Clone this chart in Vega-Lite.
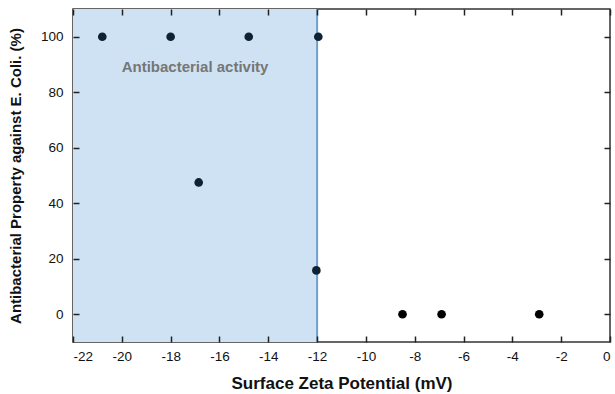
{
  "$schema": "https://vega.github.io/schema/vega-lite/v6.json",
  "width": 537,
  "height": 333,
  "autosize": {"type": "none"},
  "padding": {"left": 73, "top": 9, "right": 5, "bottom": 52},
  "background": "white",
  "config": {
    "view": {"stroke": "#333333", "strokeWidth": 1.5},
    "font": "Liberation Sans",
    "axis": {
      "labelFont": "Liberation Sans",
      "labelFontSize": 13.5,
      "labelColor": "#111111",
      "titleFont": "Liberation Sans",
      "titleFontWeight": "bold",
      "titleColor": "#111111",
      "domain": false,
      "grid": false,
      "ticks": true,
      "tickOpacity": 1,
      "tickColor": "#222222"
    }
  },
  "datasets": {
    "region": [{"x1": -22, "x2": -12, "y1": -10, "y2": 110}],
    "points": [
      {"zeta": -20.8, "activity": 100, "group": "a"},
      {"zeta": -18.0, "activity": 100, "group": "a"},
      {"zeta": -14.8, "activity": 100, "group": "a"},
      {"zeta": -11.95, "activity": 100, "group": "a"},
      {"zeta": -16.85, "activity": 47.5, "group": "a"},
      {"zeta": -12.03, "activity": 15.8, "group": "a"},
      {"zeta": -8.5, "activity": 0, "group": "b"},
      {"zeta": -6.9, "activity": 0, "group": "b"},
      {"zeta": -2.9, "activity": 0, "group": "b"}
    ],
    "label": [{"x": -17.0, "y": 89, "text": "Antibacterial  activity"}]
  },
  "layer": [
    {
      "data": {"name": "region"},
      "mark": {"type": "rect", "color": "#cfe2f3"},
      "encoding": {
        "x": {"field": "x1", "type": "quantitative", "scale": {"domain": [-22, 0], "nice": false}, "axis": null},
        "x2": {"field": "x2"},
        "y": {"field": "y1", "type": "quantitative", "scale": {"domain": [-10, 110], "nice": false, "zero": false}, "axis": null},
        "y2": {"field": "y2"}
      }
    },
    {
      "data": {"name": "region"},
      "mark": {"type": "rule", "color": "#6f9fcf", "strokeWidth": 2},
      "encoding": {
        "x": {"field": "x2", "type": "quantitative", "axis": null},
        "y": {"field": "y1", "type": "quantitative", "axis": null},
        "y2": {"field": "y2"}
      }
    },
    {
      "data": {"name": "points"},
      "mark": {"type": "point", "shape": "circle", "filled": true, "opacity": 1, "size": 75},
      "encoding": {
        "x": {"field": "zeta", "type": "quantitative", "axis": {"orient": "bottom", "zindex": 1, "values": [-22,-20,-18,-16,-14,-12,-10,-8,-6,-4,-2,0], "labelExpr": "replace(datum.label, '\u2212', '-')", "title": "Surface Zeta Potential (mV)", "titleFontSize": 17, "titlePadding": 13, "labelPadding": 7, "ticks": true, "tickOpacity": 1, "tickSize": 6, "tickColor": "#222222", "tickWidth": 1.5, "offset": -6}},
        "y": {"field": "activity", "type": "quantitative", "axis": {"orient": "left", "zindex": 1, "values": [0,20,40,60,80,100], "title": "Antibacterial Property against E. Coli. (%)", "titleFontSize": 15, "titlePadding": 17, "labelPadding": 10, "ticks": true, "tickOpacity": 1, "tickSize": 6, "tickColor": "#222222", "tickWidth": 1.5, "offset": -6}},
        "color": {"field": "group", "type": "nominal", "scale": {"domain": ["a", "b"], "range": ["#0f2233", "#000000"]}, "legend": null}
      }
    },
    {
      "data": {"name": "label"},
      "mark": {"type": "text", "font": "Liberation Sans", "fontSize": 15, "fontWeight": "bold", "color": "#767676"},
      "encoding": {
        "x": {"field": "x", "type": "quantitative", "axis": {"orient": "top", "zindex": 1, "values": [-22,-20,-18,-16,-14,-12,-10,-8,-6,-4,-2,0], "labels": false, "title": null, "ticks": true, "tickOpacity": 1, "tickSize": 6, "tickColor": "#222222", "tickWidth": 1.5, "offset": -6}},
        "y": {"field": "y", "type": "quantitative", "axis": {"orient": "right", "zindex": 1, "values": [0,20,40,60,80,100], "labels": false, "title": null, "ticks": true, "tickOpacity": 1, "tickSize": 6, "tickColor": "#222222", "tickWidth": 1.5, "offset": -6}},
        "text": {"field": "text"}
      }
    }
  ],
  "resolve": {"axis": {"x": "independent", "y": "independent"}}
}
